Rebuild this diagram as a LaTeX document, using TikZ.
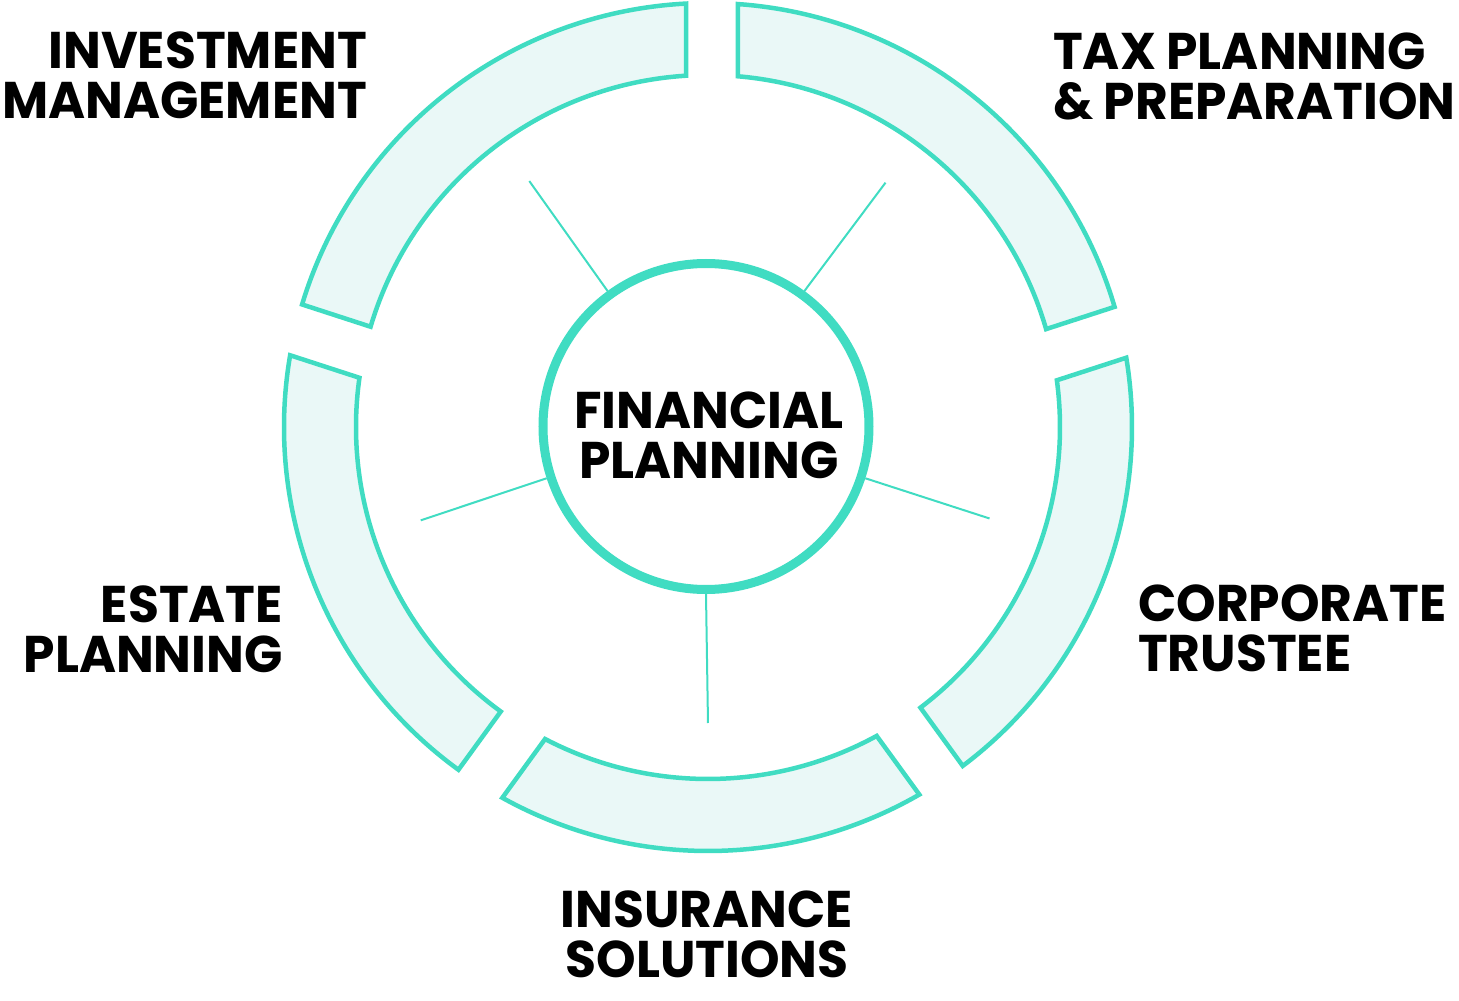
\documentclass[tikz,border=0pt]{standalone}
\usepackage{fontspec}
\setmainfont{Poppins}[FakeStretch=0.975]
\definecolor{ringteal}{RGB}{64,220,194}
\definecolor{ringfill}{RGB}{234,248,247}
\tikzset{
  seg/.style={draw=ringteal, fill=ringfill, line width=4.5pt, line join=miter},
  spoke/.style={draw=ringteal, line width=2pt},
  hub/.style={circle, draw=ringteal, fill=white, line width=9pt, minimum size=326pt, inner sep=0pt},
  lab/.style={inner sep=0pt, font=\bfseries\fontsize{51.6pt}{50pt}\selectfont, text=black}
}
\begin{document}
\begin{tikzpicture}[x=1pt,y=1pt]
\useasboundingbox (-708,-574) rectangle (751,427);
\def\Ro{424}\def\Ri{352}\def\gw{26}\def\Px{4}\def\Py{-38}
% ring segments
\foreach \a/\b in {18/90,90/162,162/234,234/306,306/378}{
  \pgfmathsetmacro\pna{-(\Px)*sin(\a)+(\Py)*cos(\a)}
  \pgfmathsetmacro\pnb{-(\Px)*sin(\b)+(\Py)*cos(\b)}
  \pgfmathsetmacro\aO{\a+asin((\pna+\gw)/\Ro)}
  \pgfmathsetmacro\aI{\a+asin((\pna+\gw)/\Ri)}
  \pgfmathsetmacro\bO{\b+asin((\pnb-\gw)/\Ro)}
  \pgfmathsetmacro\bI{\b+asin((\pnb-\gw)/\Ri)}
  \draw[seg] (\aO:\Ro) arc[start angle=\aO, end angle=\bO, radius=\Ro]
     -- (\bI:\Ri) arc[start angle=\bI, end angle=\aI, radius=\Ri] -- cycle;
}
% hub
\node[hub] (fp) at (-2,0.5) {};
\foreach \t/\r in {54/302,126/304,198/302,270/296,342/296}{
  \coordinate (s\t) at (\t:\r);
  \draw[spoke] (fp.\t) -- (s\t);
}
\node[lab, align=center, anchor=north] (fptext) at (1,35) {FINANCIAL\\PLANNING};
% labels
\node[lab, align=right, anchor=north east] (inv) at (-341,395) {INVESTMENT\\MANAGEMENT};
\node[lab, align=left, anchor=north west] (tax) at (345,394) {TAX PLANNING\\\& PREPARATION};
\node[lab, align=right, anchor=north east] (est) at (-425,-159) {ESTATE\\PLANNING};
\node[lab, align=left, anchor=north west] (cor) at (430,-158) {CORPORATE\\TRUSTEE};
\node[lab, align=center, anchor=north] (ins) at (-1,-464) {INSURANCE\\SOLUTIONS};
\end{tikzpicture}
\end{document}
